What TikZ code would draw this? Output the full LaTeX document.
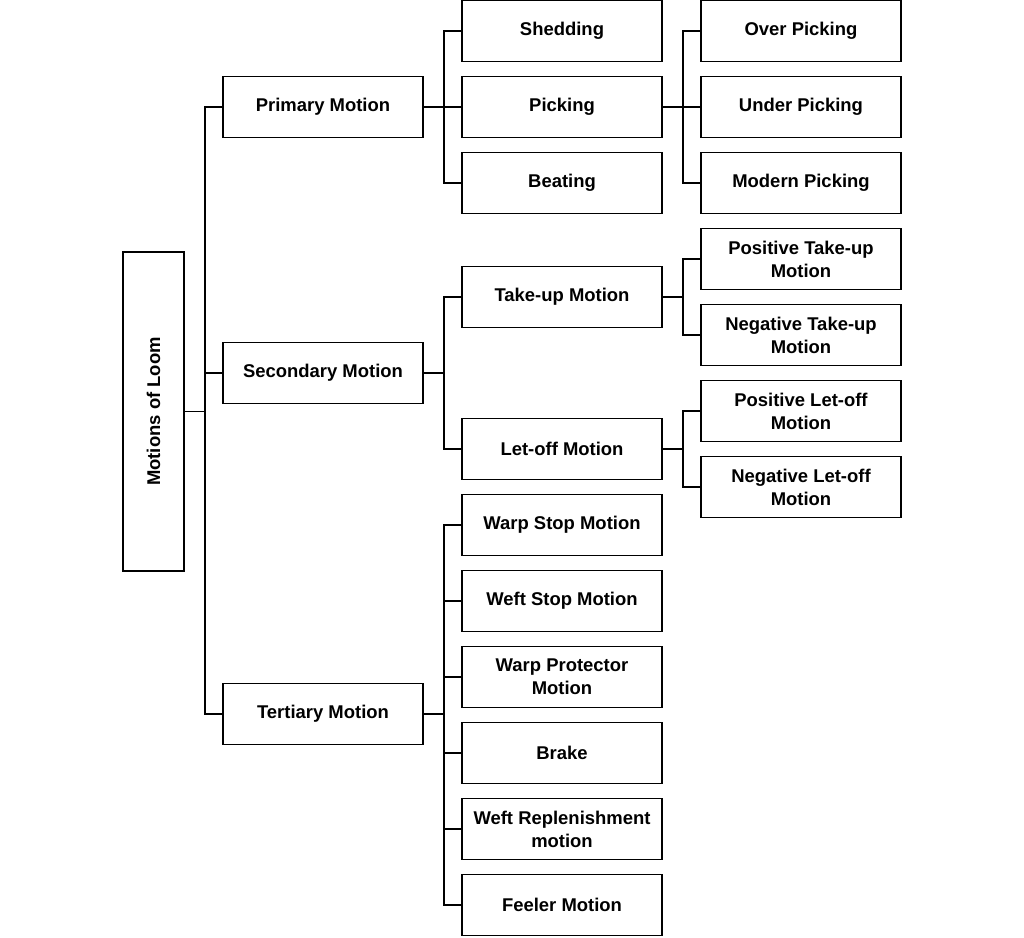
\documentclass[tikz,border=0pt]{standalone}
\usepackage{fontspec}
\setmainfont{Liberation Sans}
\begin{document}
\begin{tikzpicture}[x=0.02cm,y=-0.02cm,line width=1.1pt,
    box/.style={draw,minimum width=4cm,minimum height=1.22cm,inner sep=1pt,align=center,
      font=\fontsize{10.5}{13}\selectfont\bfseries}]
    \useasboundingbox (0,0) rectangle (1024,937);
    % root
    \node[box,rotate=90,minimum width=6.38cm] (loom) at (153.5,411.5) {Motions of Loom};
    % first level
    \node[box] (prim) at (323,107) {Primary Motion};
    \node[box] (sec) at (323,373) {Secondary Motion};
    \node[box] (tert) at (323,714) {Tertiary Motion};
    % second level
    \node[box] (shed) at (562,31) {Shedding};
    \node[box] (pick) at (562,107) {Picking};
    \node[box] (beat) at (562,183) {Beating};
    \node[box] (take) at (562,297) {Take-up Motion};
    \node[box] (let) at (562,449) {Let-off Motion};
    \node[box] (warps) at (562,525) {Warp Stop Motion};
    \node[box] (wefts) at (562,601) {Weft Stop Motion};
    \node[box] (warpp) at (562,677) {Warp Protector\\Motion};
    \node[box] (brake) at (562,753) {Brake};
    \node[box] (weftr) at (562,829) {Weft Replenishment\\motion};
    \node[box] (feel) at (562,905) {Feeler Motion};
    % third level
    \node[box] (over) at (801,31) {Over Picking};
    \node[box] (under) at (801,107) {Under Picking};
    \node[box] (modern) at (801,183) {Modern Picking};
    \node[box] (postake) at (801,259) {Positive Take-up\\Motion};
    \node[box] (negtake) at (801,335) {Negative Take-up\\Motion};
    \node[box] (poslet) at (801,411) {Positive Let-off\\Motion};
    \node[box] (neglet) at (801,487) {Negative Let-off\\Motion};
    % connectors
    \foreach \c in {prim,sec,tert}
      \draw (loom.south) -- ++(20,0) |- (\c.west);
    \foreach \c in {shed,pick,beat}
      \draw (prim.east) -- ++(20,0) |- (\c.west);
    \foreach \c in {take,let}
      \draw (sec.east) -- ++(20,0) |- (\c.west);
    \foreach \c in {warps,wefts,warpp,brake,weftr,feel}
      \draw (tert.east) -- ++(20,0) |- (\c.west);
    \foreach \c in {over,under,modern}
      \draw (pick.east) -- ++(20,0) |- (\c.west);
    \foreach \c in {postake,negtake}
      \draw (take.east) -- ++(20,0) |- (\c.west);
    \foreach \c in {poslet,neglet}
      \draw (let.east) -- ++(20,0) |- (\c.west);
\end{tikzpicture}
\end{document}
